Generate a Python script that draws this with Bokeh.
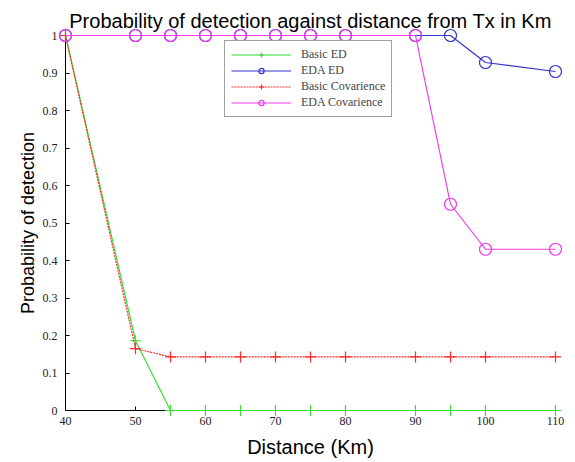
from bokeh.plotting import figure
from bokeh.models import Range1d, Legend, LegendItem, FixedTicker
from bokeh.embed import file_html
from bokeh.resources import INLINE

distance = [40, 50, 55, 60, 65, 70, 75, 80, 90, 95, 100, 110]
basic_ed = [1.0, 0.186, 0, 0, 0, 0, 0, 0, 0, 0, 0, 0]
eda_ed = [1.0, 1.0, 1.0, 1.0, 1.0, 1.0, 1.0, 1.0, 1.0, 1.0, 0.928, 0.904]
basic_cov = [1.0, 0.165, 0.143, 0.143, 0.143, 0.143, 0.143, 0.143, 0.143, 0.143, 0.143, 0.143]
eda_cov = [1.0, 1.0, 1.0, 1.0, 1.0, 1.0, 1.0, 1.0, 1.0, 0.55, 0.43, 0.43]
x_ticks = [40, 50, 60, 70, 80, 90, 100, 110]
y_ticks = [0, 0.1, 0.2, 0.3, 0.4, 0.5, 0.6, 0.7, 0.8, 0.9, 1]

p = figure(width=567, height=460, output_backend="svg", toolbar_location=None,
           x_range=Range1d(40, 110), y_range=Range1d(0, 1),
           min_border_left=65, min_border_right=12, min_border_top=35, min_border_bottom=48,
           title="Probability of detection against distance from Tx in Km")
p.outline_line_color = None
p.xgrid.visible = False
p.ygrid.visible = False
p.background_fill_color = "white"
p.border_fill_color = "white"

p.title.text_font = "Liberation Sans"
p.title.text_font_size = "20px"
p.title.text_font_style = "normal"
p.title.align = "center"
p.title.text_color = "black"
p.title.standoff = 8

for ax in (p.xaxis[0], p.yaxis[0]):
    ax.major_label_text_font = "Liberation Serif"
    ax.major_label_text_font_size = "12px"
    ax.major_label_text_color = "#222222"
    ax.axis_label_text_font = "Liberation Sans"
    ax.axis_label_text_font_style = "normal"
    ax.axis_label_text_color = "black"
    ax.axis_line_color = "black"
    ax.major_tick_line_color = "black"
    ax.major_tick_in = 4
    ax.major_tick_out = 0
    ax.minor_tick_line_color = None

p.xaxis.ticker = FixedTicker(ticks=x_ticks)
p.yaxis.ticker = FixedTicker(ticks=y_ticks)
p.yaxis.major_label_overrides = {0: "0", 1: "1"}
p.xaxis.axis_label = "Distance (Km)"
p.yaxis.axis_label = "Probability of detection"
p.xaxis.axis_label_text_font_size = "20px"
p.yaxis.axis_label_text_font_size = "18px"
p.xaxis.major_label_standoff = 6
p.xaxis.axis_label_standoff = 8
p.yaxis.major_label_standoff = 8
p.yaxis.axis_label_standoff = 2

series = [
    ("Basic ED", basic_ed, "#33e033", "solid", "cross", 11),
    ("EDA ED", eda_ed, "#3535c8", "solid", "circle", 12),
    ("Basic Covarience", basic_cov, "#ff2a2a", "2 1", "cross", 11),
    ("EDA Covarience", eda_cov, "#ec3cec", "solid", "circle", 12),
]
items = []
for name, ys, color, dash, marker, size in series:
    ln = p.line(distance, ys, line_color=color, line_width=1.2, line_dash=dash)
    sc = p.scatter(distance, ys, marker=marker, size=size, line_color=color,
                   fill_color=None, line_width=1.2)
    ln.level = "overlay"
    sc.level = "overlay"
    items.append(LegendItem(label=name, renderers=[ln, sc]))

legend = Legend(items=items, location=(159, 293), glyph_width=60, glyph_height=13,
                label_height=13, spacing=1, padding=6, margin=0,
                label_text_font="Liberation Serif", label_text_font_size="12px",
                label_standoff=10, border_line_color="#444444", border_line_width=1,
                background_fill_alpha=1.0)
p.add_layout(legend, "center")

open("out.html", "w").write(file_html(p, INLINE))
